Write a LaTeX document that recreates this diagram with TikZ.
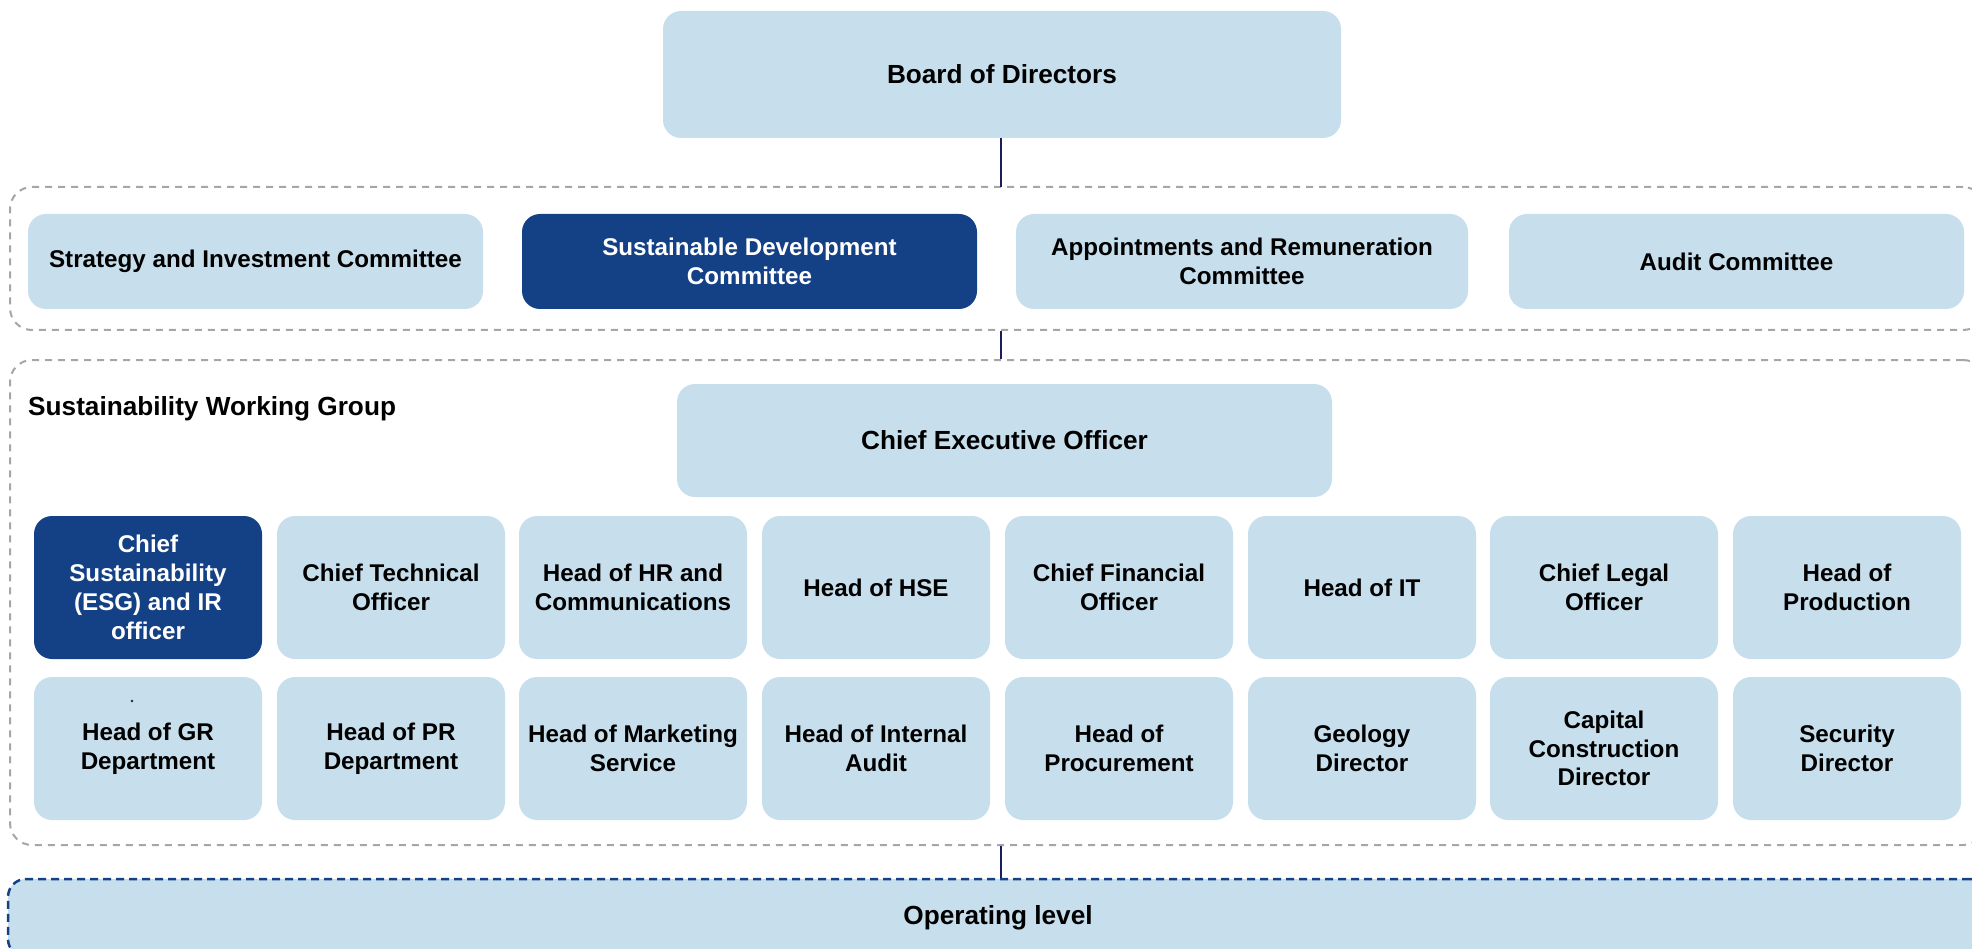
\documentclass[tikz,border=0pt]{standalone}
\usepackage{fontspec}
\setmainfont{Liberation Sans}
\usepackage{tikz}

\definecolor{boxblue}{HTML}{C7DFEC}
\definecolor{esgblue}{HTML}{144186}
\definecolor{framegray}{HTML}{A6A6A6}
\definecolor{linknavy}{HTML}{1C1C5C}

\begin{document}
\begin{tikzpicture}[x=1pt, y=-1pt,
		font=\bfseries\fontsize{24.2}{28.8}\selectfont,
		box/.style={fill=boxblue, rounded corners=18pt, align=center, inner sep=0pt},
		keybox/.style={box, fill=esgblue, text=white},
		unit/.style={box, minimum width=228, minimum height=143},
		big/.style={font=\bfseries\fontsize{26.2}{31}\selectfont},
		group/.style={draw=framegray, line width=2pt, dash pattern=on 7pt off 6pt, rounded corners=22pt, minimum width=1975},
		link/.style={draw=linknavy, line width=2.5pt}]
		\useasboundingbox (0, 0) rectangle (1972, 949);
		\clip (0, 0) rectangle (1972, 949);
		% board and committees
		\node[box, big, minimum width=678, minimum height=127] (board) at (1002, 74.5){Board of Directors};
		\node[group, minimum height=143] (committees) at (997.5, 258.5){};
		\node[box, minimum width=455, minimum height=95] (strategy) at (255.5, 261.5){Strategy and Investment Committee};
		\node[keybox, minimum width=455, minimum height=95] (sdc) at (749.5, 261.5){Sustainable Development\\Committee};
		\node[box, minimum width=452, minimum height=95] (remun) at (1242, 261.5){Appointments and Remuneration\\Committee};
		\node[box, minimum width=455, minimum height=95] (audit) at (1736.5, 261.5){Audit Committee};
		% working group
		\node[group, minimum height=485] (wg) at (997.5, 602.5){};
		\node[big, anchor=west, inner sep=0pt] (wglabel) at (28, 409){Sustainability Working Group};
		\node[box, big, minimum width=655, minimum height=113] (ceo) at (1004.5, 440.5){Chief Executive Officer};
		\node[unit, keybox] (esg) at (148, 587.5){Chief\\Sustainability\\(ESG) and IR\\officer};
		\node[unit] (cto) at (391, 587.5){Chief Technical\\Officer};
		\node[unit] (hr) at (633, 587.5){Head of HR and\\Communications};
		\node[unit] (hse) at (876, 587.5){Head of HSE};
		\node[unit] (cfo) at (1119, 587.5){Chief Financial\\Officer};
		\node[unit] (it) at (1362, 587.5){Head of IT};
		\node[unit] (clo) at (1604, 587.5){Chief Legal\\Officer};
		\node[unit] (prod) at (1847, 587.5){Head of\\Production};
		\node[unit] (gr) at (148, 748.5){Head of GR\\Department};
		\node[unit] (pr) at (391, 748.5){Head of PR\\Department};
		\node[unit] (mkt) at (633, 748.5){Head of Marketing\\Service};
		\node[unit] (intaudit) at (876, 748.5){Head of Internal\\Audit};
		\node[unit] (proc) at (1119, 748.5){Head of\\Procurement};
		\node[unit] (geo) at (1362, 748.5){Geology\\Director};
		\node[unit] (capex) at (1604, 748.5){Capital\\Construction\\Director};
		\node[unit] (sec) at (1847, 748.5){Security\\Director};
		\fill[linknavy] (132, 701) circle (1.3);
		% operating level
		\node[box, big, draw=esgblue, line width=2.5pt, dash pattern=on 8pt off 5pt, minimum width=1980, minimum height=78] (oper) at (998, 918){Operating level};
		% connectors
		\draw[link] (1001, 138) -- (1001, 187);
		\draw[link] (committees.south -| 1001, 0) -- (wg.north -| 1001, 0);
		\draw[link] (wg.south -| 1001, 0) -- (oper.north -| 1001, 0);
	\end{tikzpicture}
\end{document}
